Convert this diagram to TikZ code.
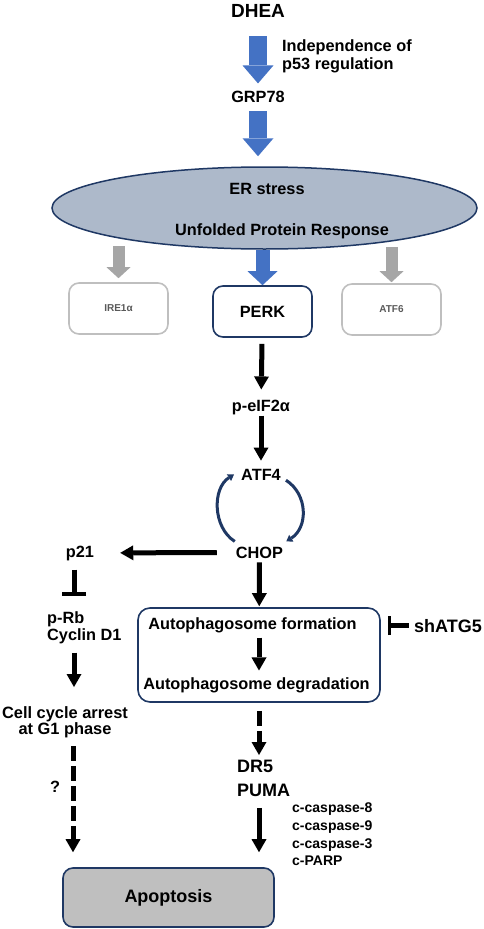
\documentclass[tikz,border=0pt]{standalone}
\usepackage{fontspec}
\setmainfont{Liberation Sans}
\usetikzlibrary{arrows.meta,positioning,calc,shapes.geometric}

\definecolor{navy}{HTML}{1F3864}
\definecolor{blockblue}{HTML}{4472C4}
\definecolor{blockgray}{HTML}{A6A6A6}
\definecolor{boxgray}{HTML}{BFBFBF}
\definecolor{erfill}{HTML}{ADB9CA}

\tikzset{
  txt/.style={inner sep=0pt, font=\fontsize{16.3}{18}\selectfont\bfseries},
  bigtxt/.style={inner sep=0pt, font=\fontsize{18}{24}\selectfont\bfseries},
  smalltxt/.style={inner sep=0pt, font=\fontsize{14}{17.6}\selectfont\bfseries},
  greytxt/.style={inner sep=0pt, text=black!65, font=\fontsize{10}{12}\selectfont\bfseries},
  navybox/.style={draw=navy, line width=1.6pt, rounded corners=10pt},
  greybox/.style={draw=boxgray, line width=1.6pt, rounded corners=10pt, minimum width=99pt, minimum height=51pt},
  blockarrow/.style={draw=blockblue, line width=18pt, -{Triangle[length=18pt,width=31pt,line width=0pt]}},
  greyarrow/.style={draw=blockgray, line width=12pt, -{Triangle[length=11pt,width=24pt,line width=0pt]}},
  blk/.style={line width=5pt, ->},
  dsh/.style={line width=5pt, ->, dash pattern=on 15pt off 5pt},
  inhib/.style={line width=5pt, -{Bar[width=24pt,line width=4pt]}},
  cyc/.style={draw=navy, line width=3pt, -{Triangle[length=6pt,width=8pt,line width=0pt]}},
}

\begin{document}
\begin{tikzpicture}[x=1pt, y=1pt, >={Triangle[length=13pt,width=15pt,line width=0pt]}]
  \useasboundingbox (0,0) rectangle (484,-929);

  % DHEA down to the UPR
  \node[txt, font=\fontsize{19}{20}\selectfont\bfseries, anchor=base] (dhea) at (258,-17) {DHEA};
  \node[txt, anchor=base] (grp) at (258,-102) {GRP78};
  \node[txt, anchor=north west, align=left] (indep) at (282,-39) {Independence of\\p53 regulation};
  \node[ellipse, draw=navy, fill=erfill, line width=1.5pt, minimum width=425pt, minimum height=82pt] (er) at (264.5,-208) {};
  \node[txt, anchor=base] (ers) at (267,-194) {ER stress};
  \node[txt, anchor=base] (upr) at (282,-235) {Unfolded Protein Response};

  % the three branches
  \node[greybox, greytxt] (ire) at (118.5,-308.5) {IRE1α};
  \node[navybox, txt, minimum width=99pt, minimum height=51pt] (perk) at (262.5,-311.5) {PERK};
  \node[greybox, greytxt] (atf6) at (391.5,-309.5) {ATF6};

  % PERK pathway
  \node[txt, anchor=base] (pe) at (261,-411) {p-eIF2α};
  \node[txt, anchor=base] (atf4) at (261,-480) {ATF4};
  \node[txt, anchor=base] (chop) at (259.5,-558) {CHOP};

  % cell cycle side
  \node[txt, anchor=base] (p21) at (80,-557) {p21};
  \node[txt, anchor=north west, align=left, font=\fontsize{16.3}{17}\selectfont\bfseries] (prb) at (47,-611) {p-Rb\\Cyclin D1};
  \node[txt, anchor=north, align=center, font=\fontsize{16.4}{16.5}\selectfont\bfseries] (cell) at (65,-706) {Cell cycle arrest\\at G1 phase};
  \node[txt, anchor=base] (qm) at (55,-792) {?};

  % autophagy
  \node[navybox, rounded corners=12pt, minimum width=242pt, minimum height=94pt] (auto) at (259,-655) {};
  \node[txt, anchor=base] (form) at (252.5,-629) {Autophagosome formation};
  \node[txt, anchor=base] (degr) at (256.5,-689.5) {Autophagosome degradation};
  \node[txt, font=\fontsize{18}{20}\selectfont\bfseries, anchor=base] (sh) at (448,-632) {shATG5};

  % apoptosis
  \node[bigtxt, anchor=north west, align=left] (dr) at (237,-760) {DR5\\PUMA};
  \node[smalltxt, anchor=north west, align=left] (casp) at (292,-803) {c-caspase-8\\c-caspase-9\\c-caspase-3\\c-PARP};
  \node[navybox, fill=boxgray, bigtxt, minimum width=211pt, minimum height=59pt] (apop) at (168.5,-897.5) {Apoptosis};

  % block arrows
  \draw[blockarrow, shorten <=19pt, shorten >=7pt] (dhea.south) -- (grp.north);
  \draw[blockarrow, shorten <=9pt, shorten >=10pt] (grp.south) -- (grp.south |- er.north);
  \draw[blockarrow, line width=14pt, -{Triangle[length=14pt,width=30pt,line width=0pt]}] (perk.north |- er.south) -- (perk.north);
  \draw[greyarrow, shorten <=-4pt, shorten >=4pt] (ire.north |- er.south) -- (ire.north);
  \draw[greyarrow, shorten <=-3pt, shorten >=1pt] (atf6.north |- er.south) -- (atf6.north);

  \path[blk]
    (perk) edge[shorten <=6pt, shorten >=10pt] (pe)
    (pe)   edge[shorten <=1pt, shorten >=8pt]  (atf4)
    (chop) edge[shorten <=19pt, shorten >=26pt] (p21)
    (chop) edge[shorten <=4pt, shorten >=1pt]  (auto)
    ;

  % ATF4 / CHOP loop
  \draw[cyc] ([shift={(-1,5)}]chop.north west) .. controls +(-22,14) and +(-22,-14) .. ([xshift=-7pt]atf4.west);
  \draw[cyc] ([xshift=5pt]atf4.south east) .. controls +(22,-14) and +(22,14) .. ([shift={(3,5)}]chop.north east);

  \draw[blk, shorten <=5pt, shorten >=7pt] (form.south -| auto.center) -- (degr.north -| auto.center);
  \draw[inhib, -{Bar[width=19pt,line width=3pt]}, shorten <=5pt, shorten >=7pt] (sh.west) -- (sh.west -| auto.east);
  \draw[inhib, shorten <=9pt, shorten >=15pt] ([xshift=-6pt]p21.south) -- ([xshift=-6pt]p21.south |- prb.north);
  \draw[blk, shorten <=9pt, shorten >=19pt] ([xshift=-6pt]p21.south |- prb.south) -- ([xshift=-6pt]p21.south |- cell.north);
  \draw[dsh, shorten <=8pt, shorten >=15pt] ([xshift=8pt]cell.south) -- ([xshift=8pt]cell.south |- apop.north);
  \draw[dsh, shorten <=8pt, shorten >=5pt] (auto.south) -- (auto.south |- dr.north);
  \draw[blk, shorten <=11pt, shorten >=15pt] (auto.south |- dr.south) -- (auto.south |- apop.north);
\end{tikzpicture}
\end{document}
